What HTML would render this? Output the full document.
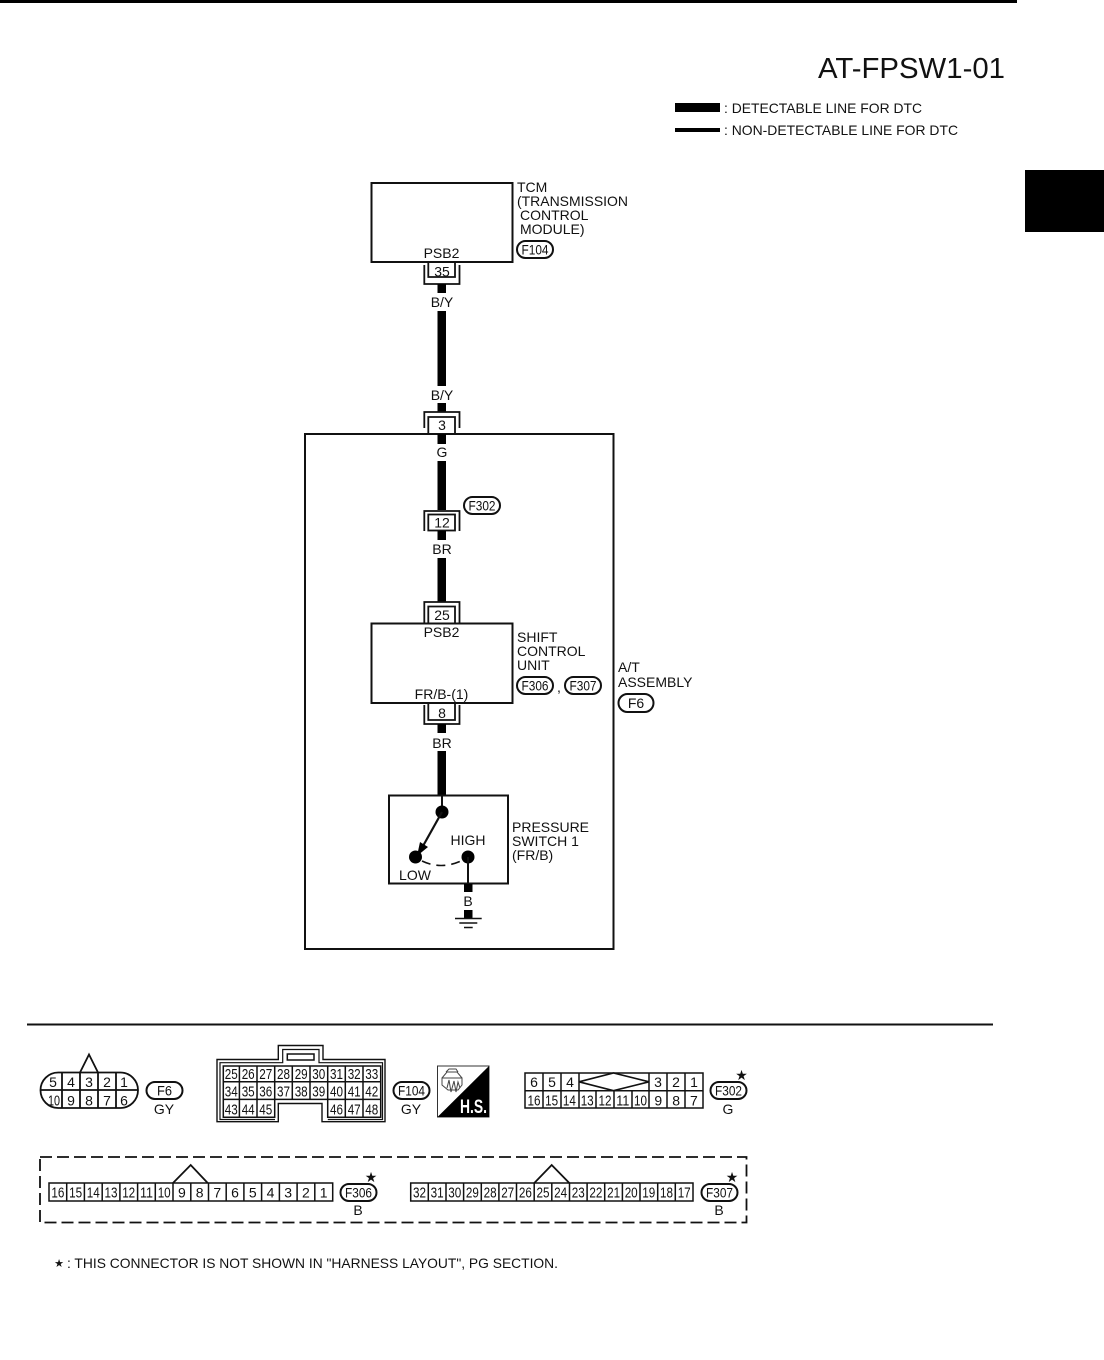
<!DOCTYPE html>
<html><head><meta charset="utf-8"><style>
html,body{margin:0;padding:0;background:#fff}
svg{display:block}
text{font-family:"Liberation Sans",sans-serif;font-size:14px;fill:#111}
.c{text-anchor:middle}
.n{text-anchor:middle;font-size:14.5px}
.p{text-anchor:middle;font-size:14px}
.s{font-family:"DejaVu Sans",sans-serif;font-size:14px;text-anchor:middle}
.l{fill:none;stroke:#111;stroke-width:1.8}
.f{fill:#fff;stroke:#111;stroke-width:2}
.w{fill:#000}
</style></head><body>
<svg width="1104" height="1360" viewBox="0 0 1104 1360" xmlns="http://www.w3.org/2000/svg">
<rect x="0" y="0" width="1017" height="3" fill="#000"/>
<rect x="1025" y="170" width="79" height="62" fill="#000"/>
<text x="818" y="78" style="font-size:29px" textLength="187" lengthAdjust="spacingAndGlyphs">AT-FPSW1-01</text>
<rect x="675" y="103" width="45" height="9" fill="#000"/>
<rect x="675" y="128" width="45" height="4" fill="#000"/>
<text x="724" y="113" textLength="198" lengthAdjust="spacingAndGlyphs">: DETECTABLE LINE FOR DTC</text>
<text x="724" y="135" textLength="234" lengthAdjust="spacingAndGlyphs">: NON-DETECTABLE LINE FOR DTC</text>

<!-- TCM -->
<rect class="f" x="371.5" y="183" width="141" height="79"/>
<text class="c" x="441.5" y="258">PSB2</text>
<text x="517" y="192">TCM</text>
<text x="517" y="206" textLength="111" lengthAdjust="spacingAndGlyphs">(TRANSMISSION</text>
<text x="520" y="220">CONTROL</text>
<text x="520" y="234">MODULE)</text>
<rect class="f" x="517" y="241" width="36" height="17" rx="8.5"/>
<text class="p" x="535" y="254.5" textLength="27" lengthAdjust="spacingAndGlyphs">F104</text>
<path class="l" d="M428.3 262V277H455V262M424.3 265V284H459.5V265"/>
<text class="c" x="442" y="276.5">35</text>
<rect class="w" x="437.5" y="284" width="8.5" height="9"/>
<text class="c" x="442" y="307">B/Y</text>
<rect class="w" x="437.5" y="311" width="8.5" height="75"/>
<text class="c" x="442" y="400">B/Y</text>
<rect class="w" x="437.5" y="403" width="8.5" height="9"/>
<path class="l" d="M424.3 428V412H459.5V428M428.3 433V417H455V433"/>
<text class="c" x="442" y="430">3</text>

<!-- Assembly -->
<rect x="305" y="434" width="308.5" height="515" fill="none" stroke="#111" stroke-width="2"/>
<rect class="w" x="437.5" y="434" width="8.5" height="10"/>
<text class="c" x="442" y="457">G</text>
<rect class="w" x="437.5" y="461" width="8.5" height="49"/>
<rect class="f" x="464" y="497" width="36" height="17" rx="8.5"/>
<text class="p" x="482" y="510.5" textLength="27" lengthAdjust="spacingAndGlyphs">F302</text>
<path class="l" d="M424.3 531V511H459.5V531"/>
<rect x="428.3" y="514.5" width="26.7" height="16" fill="#fff" stroke="#111" stroke-width="1.8"/>
<text class="c" x="442" y="527.5">12</text>
<rect class="w" x="437.5" y="531" width="8.5" height="9"/>
<text class="c" x="442" y="554">BR</text>
<rect class="w" x="437.5" y="558" width="8.5" height="44"/>
<path class="l" d="M424.3 623V602H459.5V623M428.3 623V606.5H455V623"/>
<text class="c" x="442" y="620">25</text>
<rect class="f" x="371.5" y="623.5" width="141" height="79.5"/>
<text class="c" x="441.5" y="637">PSB2</text>
<text class="c" x="441.5" y="699">FR/B-(1)</text>
<text x="517" y="642">SHIFT</text>
<text x="517" y="656">CONTROL</text>
<text x="517" y="670">UNIT</text>
<rect class="f" x="517" y="677" width="36" height="17" rx="8.5"/>
<text class="p" x="535" y="690.5" textLength="27" lengthAdjust="spacingAndGlyphs">F306</text>
<text x="557" y="692">,</text>
<rect class="f" x="565" y="677" width="36" height="17" rx="8.5"/>
<text class="p" x="583" y="690.5" textLength="27" lengthAdjust="spacingAndGlyphs">F307</text>
<text x="618" y="672">A/T</text>
<text x="618" y="687">ASSEMBLY</text>
<rect class="f" x="618.5" y="694" width="35" height="18" rx="9"/>
<text class="c" x="636" y="708">F6</text>
<path class="l" d="M428.3 703V720H455V703M424.3 705V724H459.5V705"/>
<text class="c" x="442" y="718">8</text>
<rect class="w" x="437.5" y="724" width="8.5" height="9"/>
<text class="c" x="442" y="748">BR</text>
<rect class="w" x="437.5" y="751" width="8.5" height="45"/>

<!-- Pressure switch -->
<rect class="f" x="389" y="795.5" width="119" height="88"/>
<path d="M442 795V812" stroke="#111" stroke-width="2"/>
<circle cx="442" cy="812" r="6.5" fill="#000"/>
<path d="M442 812L423 846" stroke="#111" stroke-width="2.2"/>
<path d="M417 856L420 842L428 847Z" fill="#000"/>
<circle cx="415.5" cy="857" r="6.5" fill="#000"/>
<circle cx="468" cy="857" r="6.5" fill="#000"/>
<path d="M422 861Q441 870 461 861" fill="none" stroke="#111" stroke-width="1.6" stroke-dasharray="9 6"/>
<path d="M468 857V884" stroke="#111" stroke-width="2"/>
<text class="c" x="468" y="845">HIGH</text>
<text class="c" x="415" y="880">LOW</text>
<text x="512" y="832">PRESSURE</text>
<text x="512" y="846">SWITCH 1</text>
<text x="512" y="860">(FR/B)</text>
<rect class="w" x="464" y="884" width="8.5" height="8"/>
<text class="c" x="468" y="906">B</text>
<rect class="w" x="464" y="910" width="8.5" height="8"/>
<path d="M455 918.5H481.7M459.3 923H477.3M464 927.5H472.7" stroke="#111" stroke-width="1.5"/>

<path d="M27 1024.5H993" stroke="#111" stroke-width="2"/>

<!-- F6 -->
<rect x="40.5" y="1072.5" width="97.5" height="35.5" rx="17.7" fill="#fff" stroke="#111" stroke-width="1.8"/>
<path class="l" d="M40.5 1090H138M62 1072.5V1108M80 1072.5V1108M98 1072.5V1108M116 1072.5V1108"/>
<path class="l" d="M80 1072.5L89 1054.5L98 1072.5"/>
<text class="c" x="53" y="1087">5</text><text class="c" x="71" y="1087">4</text><text class="c" x="89" y="1087">3</text><text class="c" x="107" y="1087">2</text><text class="c" x="124" y="1087">1</text>
<text class="n" x="54" y="1105.5" textLength="12" lengthAdjust="spacingAndGlyphs">10</text><text class="c" x="71" y="1105.5">9</text><text class="c" x="89" y="1105.5">8</text><text class="c" x="107" y="1105.5">7</text><text class="c" x="124" y="1105.5">6</text>
<rect class="f" x="146.5" y="1082" width="36" height="17" rx="8.5"/>
<text class="p" x="164.5" y="1095.5" textLength="15" lengthAdjust="spacingAndGlyphs">F6</text>
<text class="c" x="164" y="1114">GY</text>

<!-- F104 connector -->
<path d="M217 1059.5H278.3V1045.5H323V1059.5H385V1121.7H322V1103.5H278.3V1121.7H217Z" fill="none" stroke="#111" stroke-width="1.4"/>
<path d="M275 1119.5H220V1062.7H282.7V1049.5H319V1062.7H382.5V1119.5H327.8" fill="none" stroke="#111" stroke-width="1.2"/>
<rect x="287.3" y="1054" width="26.7" height="6" fill="none" stroke="#111" stroke-width="1.5"/>
<path d="M223.3 1066H380.7V1117.3H327.7V1099.4H274.7V1117.3H223.3ZM223.3 1081.7H380.7M223.3 1099.4H274.7M327.7 1099.4H380.7M239.4 1066V1117.3M257 1066V1117.3M274.7 1066V1099.4M292.3 1066V1099.4M310 1066V1099.4M327.7 1066V1099.4M345.3 1066V1117.3M363 1066V1117.3" fill="none" stroke="#111" stroke-width="1.5"/>
<text class="n" x="231.3" y="1079" textLength="13" lengthAdjust="spacingAndGlyphs">25</text><text class="n" x="248.2" y="1079" textLength="13" lengthAdjust="spacingAndGlyphs">26</text><text class="n" x="265.8" y="1079" textLength="13" lengthAdjust="spacingAndGlyphs">27</text><text class="n" x="283.5" y="1079" textLength="13" lengthAdjust="spacingAndGlyphs">28</text><text class="n" x="301.2" y="1079" textLength="13" lengthAdjust="spacingAndGlyphs">29</text><text class="n" x="318.8" y="1079" textLength="13" lengthAdjust="spacingAndGlyphs">30</text><text class="n" x="336.5" y="1079" textLength="13" lengthAdjust="spacingAndGlyphs">31</text><text class="n" x="354.2" y="1079" textLength="13" lengthAdjust="spacingAndGlyphs">32</text><text class="n" x="371.8" y="1079" textLength="13" lengthAdjust="spacingAndGlyphs">33</text>
<text class="n" x="231.3" y="1096.5" textLength="13" lengthAdjust="spacingAndGlyphs">34</text><text class="n" x="248.2" y="1096.5" textLength="13" lengthAdjust="spacingAndGlyphs">35</text><text class="n" x="265.8" y="1096.5" textLength="13" lengthAdjust="spacingAndGlyphs">36</text><text class="n" x="283.5" y="1096.5" textLength="13" lengthAdjust="spacingAndGlyphs">37</text><text class="n" x="301.2" y="1096.5" textLength="13" lengthAdjust="spacingAndGlyphs">38</text><text class="n" x="318.8" y="1096.5" textLength="13" lengthAdjust="spacingAndGlyphs">39</text><text class="n" x="336.5" y="1096.5" textLength="13" lengthAdjust="spacingAndGlyphs">40</text><text class="n" x="354.2" y="1096.5" textLength="13" lengthAdjust="spacingAndGlyphs">41</text><text class="n" x="371.8" y="1096.5" textLength="13" lengthAdjust="spacingAndGlyphs">42</text>
<text class="n" x="231.3" y="1114.5" textLength="13" lengthAdjust="spacingAndGlyphs">43</text><text class="n" x="248.2" y="1114.5" textLength="13" lengthAdjust="spacingAndGlyphs">44</text><text class="n" x="265.8" y="1114.5" textLength="13" lengthAdjust="spacingAndGlyphs">45</text><text class="n" x="336.5" y="1114.5" textLength="13" lengthAdjust="spacingAndGlyphs">46</text><text class="n" x="354.2" y="1114.5" textLength="13" lengthAdjust="spacingAndGlyphs">47</text><text class="n" x="371.8" y="1114.5" textLength="13" lengthAdjust="spacingAndGlyphs">48</text>
<rect class="f" x="393.5" y="1082" width="36" height="17" rx="8.5"/>
<text class="p" x="411.5" y="1095.5" textLength="27" lengthAdjust="spacingAndGlyphs">F104</text>
<text class="c" x="411" y="1114">GY</text>

<!-- HS icon -->
<rect x="437.5" y="1066" width="51.5" height="51" fill="#fff" stroke="#333" stroke-width="1"/>
<path d="M489 1066V1117H437.5Z" fill="#000"/>
<path d="M442 1078H462V1085L458 1090H448L442 1085ZM442 1078L447 1072H457L462 1078M446 1072L449 1069H456L458 1072M447 1088L449 1080L451 1092L454 1081L456 1092L458 1082L460 1088" fill="none" stroke="#444" stroke-width="1"/>
<text x="460" y="1113" style="font-size:19px;font-weight:bold;fill:#fff" textLength="27" lengthAdjust="spacingAndGlyphs">H.S.</text>

<!-- F302 -->
<path d="M525 1073H703V1108H525ZM525 1090.7H703M543 1073V1108M561 1073V1108M579 1073V1108M649 1073V1108M667 1073V1108M685 1073V1108M596 1090.7V1108M614 1090.7V1108M632 1090.7V1108" fill="none" stroke="#111" stroke-width="1.5"/>
<path d="M579 1081.8L613.5 1073L649 1081.8L613.5 1090.7Z" fill="#fff" stroke="#111" stroke-width="1.6"/>
<text class="c" x="534" y="1087">6</text><text class="c" x="552" y="1087">5</text><text class="c" x="570" y="1087">4</text><text class="c" x="658" y="1087">3</text><text class="c" x="676" y="1087">2</text><text class="c" x="694" y="1087">1</text>
<text class="n" x="534" y="1105.5" textLength="13" lengthAdjust="spacingAndGlyphs">16</text><text class="n" x="551.6" y="1105.5" textLength="13" lengthAdjust="spacingAndGlyphs">15</text><text class="n" x="569.4" y="1105.5" textLength="13" lengthAdjust="spacingAndGlyphs">14</text><text class="n" x="587.2" y="1105.5" textLength="13" lengthAdjust="spacingAndGlyphs">13</text><text class="n" x="605" y="1105.5" textLength="13" lengthAdjust="spacingAndGlyphs">12</text><text class="n" x="622.8" y="1105.5" textLength="13" lengthAdjust="spacingAndGlyphs">11</text><text class="n" x="640.5" y="1105.5" textLength="13" lengthAdjust="spacingAndGlyphs">10</text><text class="c" x="658.3" y="1105.5">9</text><text class="c" x="676.1" y="1105.5">8</text><text class="c" x="693.9" y="1105.5">7</text>
<rect class="f" x="710.5" y="1082" width="36" height="17" rx="8.5"/>
<text class="p" x="728.5" y="1095.5" textLength="27" lengthAdjust="spacingAndGlyphs">F302</text>
<text class="s" x="741.5" y="1080">★</text>
<text class="c" x="728" y="1114">G</text>

<!-- Dashed -->
<rect x="40" y="1157" width="706.5" height="65.5" fill="none" stroke="#111" stroke-width="1.8" stroke-dasharray="12 5"/>

<!-- F306 -->
<path d="M49 1183H332.7V1201H49ZM66.7 1183V1201M84.4 1183V1201M102.2 1183V1201M119.9 1183V1201M137.6 1183V1201M155.3 1183V1201M173 1183V1201M190.8 1183V1201M208.5 1183V1201M226.2 1183V1201M243.9 1183V1201M261.6 1183V1201M279.4 1183V1201M297.1 1183V1201M314.8 1183V1201" fill="none" stroke="#111" stroke-width="1.5"/>
<path class="l" d="M173 1183L190.7 1165L207.7 1183"/>
<text class="n" x="57.9" y="1197.5" textLength="13" lengthAdjust="spacingAndGlyphs">16</text><text class="n" x="75.6" y="1197.5" textLength="13" lengthAdjust="spacingAndGlyphs">15</text><text class="n" x="93.3" y="1197.5" textLength="13" lengthAdjust="spacingAndGlyphs">14</text><text class="n" x="111" y="1197.5" textLength="13" lengthAdjust="spacingAndGlyphs">13</text><text class="n" x="128.7" y="1197.5" textLength="13" lengthAdjust="spacingAndGlyphs">12</text><text class="n" x="146.5" y="1197.5" textLength="13" lengthAdjust="spacingAndGlyphs">11</text><text class="n" x="164.2" y="1197.5" textLength="13" lengthAdjust="spacingAndGlyphs">10</text><text class="c" x="181.9" y="1197.5">9</text><text class="c" x="199.6" y="1197.5">8</text><text class="c" x="217.3" y="1197.5">7</text><text class="c" x="235" y="1197.5">6</text><text class="c" x="252.8" y="1197.5">5</text><text class="c" x="270.5" y="1197.5">4</text><text class="c" x="288.2" y="1197.5">3</text><text class="c" x="305.9" y="1197.5">2</text><text class="c" x="323.6" y="1197.5">1</text>
<rect class="f" x="340.5" y="1184" width="36" height="17" rx="8.5"/>
<text class="p" x="358.5" y="1197.5" textLength="27" lengthAdjust="spacingAndGlyphs">F306</text>
<text class="s" x="371" y="1182">★</text>
<text class="c" x="358" y="1215">B</text>

<!-- F307 -->
<path d="M410.7 1183H693V1201H410.7ZM428.3 1183V1201M446 1183V1201M463.6 1183V1201M481.3 1183V1201M498.9 1183V1201M516.5 1183V1201M534.2 1183V1201M551.8 1183V1201M569.5 1183V1201M587.1 1183V1201M604.7 1183V1201M622.4 1183V1201M640 1183V1201M657.7 1183V1201M675.3 1183V1201" fill="none" stroke="#111" stroke-width="1.5"/>
<path class="l" d="M534.3 1183L551.7 1165L569.3 1183"/>
<text class="n" x="419.5" y="1197.5" textLength="13" lengthAdjust="spacingAndGlyphs">32</text><text class="n" x="437.1" y="1197.5" textLength="13" lengthAdjust="spacingAndGlyphs">31</text><text class="n" x="454.8" y="1197.5" textLength="13" lengthAdjust="spacingAndGlyphs">30</text><text class="n" x="472.4" y="1197.5" textLength="13" lengthAdjust="spacingAndGlyphs">29</text><text class="n" x="490.1" y="1197.5" textLength="13" lengthAdjust="spacingAndGlyphs">28</text><text class="n" x="507.7" y="1197.5" textLength="13" lengthAdjust="spacingAndGlyphs">27</text><text class="n" x="525.4" y="1197.5" textLength="13" lengthAdjust="spacingAndGlyphs">26</text><text class="n" x="543" y="1197.5" textLength="13" lengthAdjust="spacingAndGlyphs">25</text><text class="n" x="560.6" y="1197.5" textLength="13" lengthAdjust="spacingAndGlyphs">24</text><text class="n" x="578.3" y="1197.5" textLength="13" lengthAdjust="spacingAndGlyphs">23</text><text class="n" x="595.9" y="1197.5" textLength="13" lengthAdjust="spacingAndGlyphs">22</text><text class="n" x="613.6" y="1197.5" textLength="13" lengthAdjust="spacingAndGlyphs">21</text><text class="n" x="631.2" y="1197.5" textLength="13" lengthAdjust="spacingAndGlyphs">20</text><text class="n" x="648.8" y="1197.5" textLength="13" lengthAdjust="spacingAndGlyphs">19</text><text class="n" x="666.5" y="1197.5" textLength="13" lengthAdjust="spacingAndGlyphs">18</text><text class="n" x="684.2" y="1197.5" textLength="13" lengthAdjust="spacingAndGlyphs">17</text>
<rect class="f" x="701.5" y="1184" width="36" height="17" rx="8.5"/>
<text class="p" x="719.5" y="1197.5" textLength="27" lengthAdjust="spacingAndGlyphs">F307</text>
<text class="s" x="732" y="1182">★</text>
<text class="c" x="719" y="1215">B</text>

<text class="s" x="59" y="1267" style="font-size:11px">★</text>
<text x="67" y="1268" textLength="491" lengthAdjust="spacingAndGlyphs">: THIS CONNECTOR IS NOT SHOWN IN "HARNESS LAYOUT", PG SECTION.</text>
</svg>
</body></html>
